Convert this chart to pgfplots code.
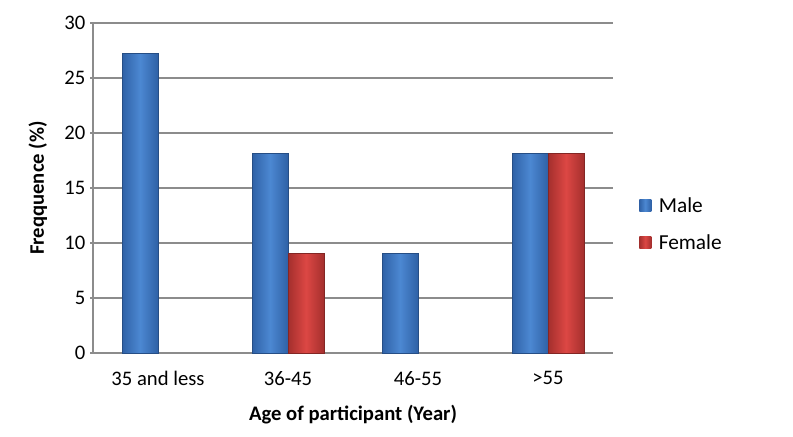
\documentclass[border=0pt]{standalone}
\usepackage{pgfplots}
\pgfplotsset{compat=1.18}
\usepackage{fontspec}
\setmainfont{Carlito}
\definecolor{gridgray}{HTML}{8C8C8C}
\definecolor{bluemid}{HTML}{4C88D2}
\definecolor{blueedge}{HTML}{2F61A6}
\definecolor{redmid}{HTML}{DC4744}
\definecolor{rededge}{HTML}{A42F2D}
\pgfplotsset{
  malebar/.style={bar shift=-13.5pt, draw=blueedge!80!black, line width=0.3pt,
    left color=blueedge, right color=blueedge, middle color=bluemid},
  femalebar/.style={bar shift=13.5pt, draw=rededge!80!black, line width=0.3pt,
    left color=rededge, right color=rededge, middle color=redmid},
}
\begin{document}
\begin{tikzpicture}
\begin{axis}[
  at={(69.75pt,62.25pt)}, anchor=south west,
  scale only axis, width=390pt, height=247.5pt,
  xmin=-0.5, xmax=3.5, ymin=0, ymax=30,
  ytick={0,5,...,30},
  xtick={0,1,2,3},
  xticklabels={35 and less,36-45,46-55,>55},
  major x tick style={draw=none},
  extra x ticks={-0.5,0.5,1.5,2.5,3.5},
  extra x tick labels={},
  extra x tick style={grid=none, major tick length=4.5pt, tick style={gridgray, line width=0.8pt}},
  tick align=outside,
  major tick length=4.5pt,
  y tick style={gridgray, line width=0.8pt},
  axis lines=left,
  axis line style={-, gridgray, line width=0.9pt},
  ymajorgrids,
  grid style={gridgray, line width=0.9pt},
  tick label style={font=\fontsize{15.5}{18}\selectfont},
  /pgf/number format/assume math mode=true,
  xticklabel style={yshift=-5.5pt},
  xlabel={\textbf{Age of participant (Year)}},
  ylabel={\textbf{Freqquence (\%)}},
  label style={font=\fontsize{15.5}{18}\selectfont},
  xlabel style={yshift=1pt},
  ylabel style={yshift=6pt},
  ybar, bar width=27pt,
  legend style={at={(1.05,0.39)}, anchor=west, draw=none, fill=none, inner sep=0pt,
    font=\fontsize{16}{19}\selectfont, row sep=11pt, cells={anchor=west}},
  legend image code/.code={\draw[#1, draw=none] (0pt,-4.5pt) rectangle (9pt,4.5pt); \path (12.5pt,0pt);},
]
\addlegendimage{malebar}
\addlegendentry{Male}
\addlegendimage{femalebar}
\addlegendentry{Female}
\addplot[malebar] coordinates {(0,27.27)};
\addplot[malebar] coordinates {(1,18.18)};
\addplot[malebar] coordinates {(2,9.09)};
\addplot[malebar] coordinates {(3,18.18)};
\addplot[femalebar] coordinates {(1,9.09)};
\addplot[femalebar] coordinates {(3,18.18)};
\end{axis}
\pgfresetboundingbox
\useasboundingbox (0,0) rectangle (594.75pt,327pt);
\end{tikzpicture}
\end{document}
